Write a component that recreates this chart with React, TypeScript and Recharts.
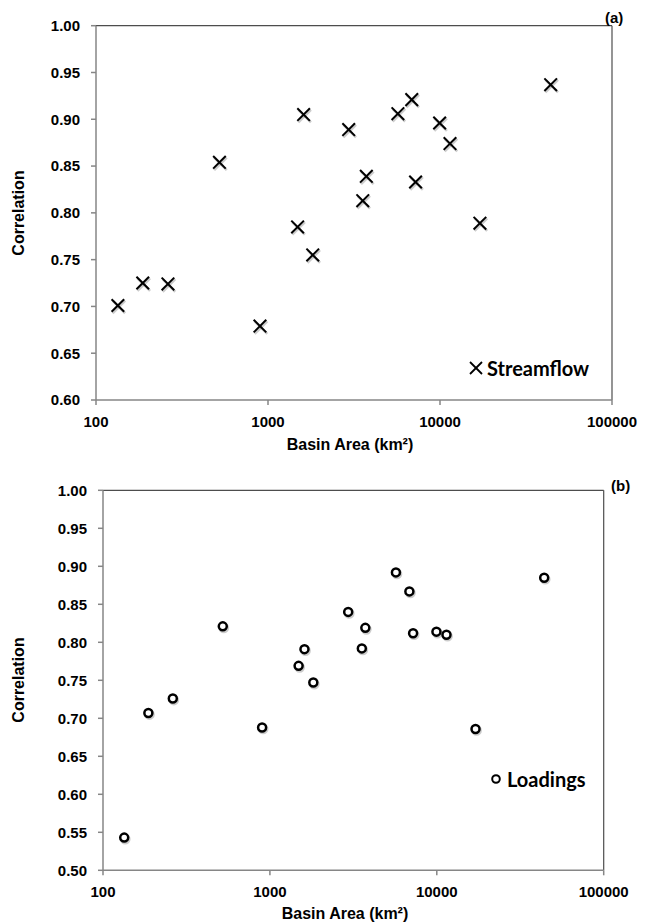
import React from 'react';
import { ScatterChart, Scatter, XAxis, YAxis, ReferenceLine, Legend, Label } from 'recharts';

// Basin areas (km²), shared by both panels
const basinAreas = [134, 187, 262, 522, 898, 1486, 1611, 1820, 2945, 3555, 3730, 5690, 6850, 7210, 9950, 11430, 17060, 44000];
// Panel (a): streamflow correlation
const streamflowCorr = [0.701, 0.725, 0.724, 0.854, 0.679, 0.785, 0.905, 0.755, 0.889, 0.813, 0.839, 0.906, 0.921, 0.833, 0.896, 0.874, 0.789, 0.937];
// Panel (b): loadings correlation
const loadingsCorr = [0.543, 0.707, 0.726, 0.821, 0.688, 0.769, 0.791, 0.747, 0.84, 0.792, 0.819, 0.892, 0.867, 0.812, 0.814, 0.81, 0.686, 0.885];

const xTicks = [100, 1000, 10000, 100000];
const yTicksA = [0.6, 0.65, 0.7, 0.75, 0.8, 0.85, 0.9, 0.95, 1.0];
const yTicksB = [0.5, 0.55, 0.6, 0.65, 0.7, 0.75, 0.8, 0.85, 0.9, 0.95, 1.0];

const dataA = basinAreas.map((a, i) => ({ area: a, value: streamflowCorr[i] }));
const dataB = basinAreas.map((a, i) => ({ area: a, value: loadingsCorr[i] }));

const FONT = "'Liberation Sans', Arial, sans-serif";
const LEG_FONT = "Lato, 'Open Sans', sans-serif";
const AXIS = '#868686';
const BORDER = '#4d4d4d';

const tickStyle = { fill: '#000', fontSize: 15, fontWeight: 700, fontFamily: FONT };

const Cross = (p: any) => {
  const { cx, cy } = p;
  if (cx == null || cy == null) return null;
  const s = 6.3;
  return (
    <g>
      <g stroke="rgba(0,0,0,0.2)" strokeWidth={2.6} transform="translate(1,1.5)">
        <line x1={cx - s} y1={cy - s} x2={cx + s} y2={cy + s} />
        <line x1={cx - s} y1={cy + s} x2={cx + s} y2={cy - s} />
      </g>
      <g stroke="#000" strokeWidth={2}>
        <line x1={cx - s} y1={cy - s} x2={cx + s} y2={cy + s} />
        <line x1={cx - s} y1={cy + s} x2={cx + s} y2={cy - s} />
      </g>
    </g>
  );
};

const Ring = (p: any) => {
  const { cx, cy } = p;
  if (cx == null || cy == null) return null;
  return (
    <g>
      <circle cx={cx + 1} cy={cy + 1.5} r={4} fill="none" stroke="rgba(0,0,0,0.2)" strokeWidth={2.8} />
      <circle cx={cx} cy={cy} r={4} fill="#fff" stroke="#000" strokeWidth={2.5} />
    </g>
  );
};

const fmt = (v: number) => v.toFixed(2);

const titleStyle: React.CSSProperties = {
  position: 'absolute',
  fontFamily: FONT,
  fontWeight: 700,
  fontSize: 15,
  color: '#000',
  lineHeight: '15px',
};

const AxisTitle = ({ x, y, rotate, children }: { x: number; y: number; rotate?: boolean; children: React.ReactNode }) => (
  <text
    x={x}
    y={y}
    transform={rotate ? `rotate(-90, ${x}, ${y})` : undefined}
    textAnchor="middle"
    dominantBaseline="central"
    fontFamily={FONT}
    fontWeight={700}
    fontSize={16}
    fill="#000"
  >
    {children}
  </text>
);

export default function App() {
  return (
    <div style={{ position: 'absolute', left: 0, top: 0, width: 651, height: 923, background: '#fff' }}>
      {/* Panel (a) */}
      <div style={{ position: 'absolute', left: 0, top: 0 }}>
        <ScatterChart width={651} height={460} margin={{ top: 25.7, right: 39, bottom: 0, left: 0 }}>
          <XAxis
            dataKey="area"
            type="number"
            scale="log"
            domain={[100, 100000]}
            ticks={xTicks}
            allowDataOverflow
            height={60}
            tick={tickStyle}
            tickSize={5}
            tickMargin={11}
            axisLine={{ stroke: AXIS, strokeWidth: 1.5 }}
            tickLine={{ stroke: AXIS, strokeWidth: 1.5 }}
            interval={0}
          >
            <Label content={() => <AxisTitle x={350} y={444}>Basin Area (km²)</AxisTitle>} />
          </XAxis>
          <YAxis
            dataKey="value"
            type="number"
            domain={[0.6, 1.0]}
            ticks={yTicksA}
            tickFormatter={fmt}
            width={96}
            tick={tickStyle}
            tickSize={5}
            tickMargin={11}
            axisLine={{ stroke: AXIS, strokeWidth: 1.5 }}
            tickLine={{ stroke: AXIS, strokeWidth: 1.5 }}
            interval={0}
          >
            <Label content={() => <AxisTitle x={18} y={213} rotate>Correlation</AxisTitle>} />
          </YAxis>
          <ReferenceLine y={1.0} stroke={BORDER} strokeWidth={1.2} />
          <ReferenceLine x={100000} stroke={BORDER} strokeWidth={1.2} />
          <Scatter data={dataA} dataKey="value" name="Streamflow" shape={Cross} isAnimationActive={false} />
          <Legend
            layout="horizontal"
            verticalAlign="middle"
            align="center"
            wrapperStyle={{ position: 'absolute', left: 468, top: 356, width: 'auto', height: 'auto' }}
            content={() => (
              <div style={{ display: 'flex', alignItems: 'center', fontFamily: LEG_FONT, fontWeight: 700, fontSize: 20, color: '#000' }}>
                <svg width={16} height={16} style={{ marginRight: 3 }}>
                  <line x1={2} y1={2} x2={14} y2={14} stroke="#000" strokeWidth={1.8} />
                  <line x1={2} y1={14} x2={14} y2={2} stroke="#000" strokeWidth={1.8} />
                </svg>
                <span>Streamflow</span>
              </div>
            )}
          />
        </ScatterChart>
      </div>
      <div style={{ ...titleStyle, left: 605, top: 10 }}>(a)</div>

      {/* Panel (b) */}
      <div style={{ position: 'absolute', left: 0, top: 460 }}>
        <ScatterChart width={651} height={463} margin={{ top: 30.3, right: 47.3, bottom: 0, left: 0 }}>
          <XAxis
            dataKey="area"
            type="number"
            scale="log"
            domain={[100, 100000]}
            ticks={xTicks}
            allowDataOverflow
            height={52.7}
            tick={tickStyle}
            tickSize={5}
            tickMargin={11}
            axisLine={{ stroke: AXIS, strokeWidth: 1.5 }}
            tickLine={{ stroke: AXIS, strokeWidth: 1.5 }}
            interval={0}
          >
            <Label content={() => <AxisTitle x={345} y={453}>Basin Area (km²)</AxisTitle>} />
          </XAxis>
          <YAxis
            dataKey="value"
            type="number"
            domain={[0.5, 1.0]}
            ticks={yTicksB}
            tickFormatter={fmt}
            width={103}
            tick={tickStyle}
            tickSize={5}
            tickMargin={11}
            axisLine={{ stroke: AXIS, strokeWidth: 1.5 }}
            tickLine={{ stroke: AXIS, strokeWidth: 1.5 }}
            interval={0}
          >
            <Label content={() => <AxisTitle x={18} y={220} rotate>Correlation</AxisTitle>} />
          </YAxis>
          <ReferenceLine y={1.0} stroke={BORDER} strokeWidth={1.2} />
          <ReferenceLine x={100000} stroke={BORDER} strokeWidth={1.2} />
          <Scatter data={dataB} dataKey="value" name="Loadings" shape={Ring} isAnimationActive={false} />
          <Legend
            layout="horizontal"
            verticalAlign="middle"
            align="center"
            wrapperStyle={{ position: 'absolute', left: 489, top: 307, width: 'auto', height: 'auto' }}
            content={() => (
              <div style={{ display: 'flex', alignItems: 'center', fontFamily: LEG_FONT, fontWeight: 700, fontSize: 20, color: '#000' }}>
                <svg width={14} height={14} style={{ marginRight: 4 }}>
                  <circle cx={7} cy={7} r={3.8} fill="#fff" stroke="#000" strokeWidth={2} />
                </svg>
                <span>Loadings</span>
              </div>
            )}
          />
        </ScatterChart>
      </div>
      <div style={{ ...titleStyle, left: 611, top: 478 }}>(b)</div>
    </div>
  );
}
